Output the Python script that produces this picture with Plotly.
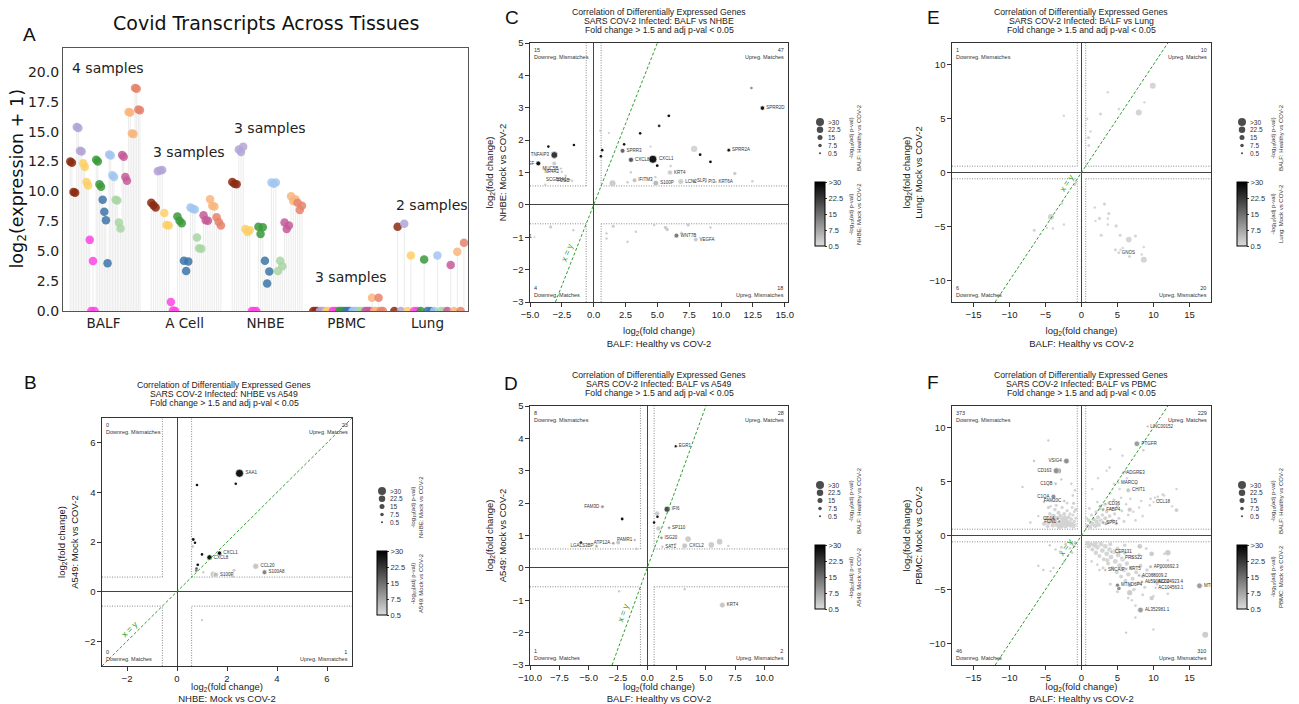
import math
import plotly.graph_objects as go

W, H = 1299, 704

# ---------------- Panel A data ----------------
tissues = ["BALF", "A Cell", "NHBE", "PBMC", "Lung"]
samples_per_tissue = [4, 3, 3, 3, 2]
sample_notes = ["4 samples", "3 samples", "3 samples", "3 samples", "2 samples"]
sample_note_y = [20.3, 13.3, 15.3, 2.85, 8.85]
transcript_colors = ["#8b2a10", "#b3a4d6", "#fdd066", "#ff44e4", "#3a9a3a", "#3b75a8",
                     "#a2c5f0", "#a8d6a3", "#c65a98", "#f9b57c", "#e6826b"]
balf_expr = [[12.5, 12.4, 9.95, 9.9], [15.4, 15.3, 13.4, 13.35], [12.35, 12.05, 10.8, 10.5],
             [5.95, 0.0, 4.18, 0.0], [12.65, 12.5, 10.6, 10.4], [9.3, 8.3, 7.6, 4.0],
             [13.1, 13.0, 11.35, 11.2], [9.3, 9.25, 7.4, 6.9], [13.05, 12.9, 11.2, 10.9],
             [16.65, 16.6, 14.85, 14.8], [18.65, 18.6, 16.85, 16.8]]
acell_expr = [[9.05, 8.85, 8.65], [11.7, 11.75, 11.8], [8.2, 7.2, 7.15], [0.75, 0.05, 0.0],
              [7.9, 7.55, 7.35], [4.2, 3.35, 4.15], [8.65, 8.55, 8.5], [6.15, 5.25, 5.2],
              [8.0, 7.6, 7.55], [9.35, 8.8, 8.75], [7.85, 7.45, 7.15]]
nhbe_expr = [[10.8, 10.65, 10.6], [13.5, 13.3, 13.75], [6.85, 6.6, 6.75], [0.0, 0.0, 0.0],
             [7.05, 6.45, 7.0], [4.2, 2.3, 3.3], [10.75, 10.65, 10.75], [3.35, 4.2, 3.75],
             [7.4, 6.85, 7.15], [9.6, 9.2, 9.35], [9.05, 8.45, 8.8]]
pbmc_expr = [[0, 0, 0], [0, 0, 0], [0, 0, 0], [0, 0, 0], [0, 0, 0], [0, 0, 0],
             [0, 0, 0], [0, 0, 0], [0, 0, 0], [1.1, 0, 0], [1.1, 0, 0]]
lung_expr = [[0, 7.05], [0, 7.3], [0, 4.65], [0, 0], [0, 4.3], [0, 0],
             [0, 4.65], [0, 0], [0, 3.85], [0, 4.95], [0, 5.7]]

# ---------------- Scatter panels data: (x, y, size-signif, colour-signif, gene) ----------------
b_points = [
    (2.5, 4.77, 30, 30, "SAA1"), (2.35, 4.35, 3, 30, ""), (0.8, 4.3, 3, 30, ""),
    (0.65, 2.1, 4, 30, ""), (0.72, 1.97, 3, 30, ""), (0.63, 1.82, 2, 5, ""),
    (1.0, 1.5, 3, 30, ""), (1.7, 1.55, 12, 30, "CXCL1"), (1.3, 1.38, 16, 30, "CXCL8"),
    (0.83, 1.08, 4, 30, ""), (0.78, 0.93, 3, 20, ""), (0.77, 0.85, 3, 15, ""),
    (1.05, 0.78, 2, 3, ""), (1.45, 0.7, 18, 3, ""), (1.55, 0.68, 16, 5, "S100P"),
    (2.28, 0.86, 5, 3, ""), (2.22, 0.62, 7, 3, ""), (3.15, 1.02, 20, 4, "CCL20"),
    (3.5, 0.78, 14, 14, "S100A8"), (1.0, -1.15, 2, 3, ""),
]
c_points = [
    (12.39, 3.61, 3, 12, ""), (13.25, 2.99, 12, 30, "SPRR2D"), (5.9, 2.75, 4, 30, ""),
    (5.14, 2.44, 4, 25, ""), (3.65, 2.21, 3, 30, ""), (2.39, 1.87, 3, 30, ""),
    (7.89, 1.73, 22, 2, ""), (4.47, 1.8, 1, 3, ""), (10.61, 1.69, 8, 30, "SPRR2A"),
    (8.36, 1.55, 4, 30, ""), (9.17, 1.33, 4, 30, ""), (2.27, 1.67, 14, 18, "SPRR3"),
    (2.93, 1.39, 15, 20, "CXCL8"), (4.65, 1.41, 30, 30, "CXCL1"), (4.99, 1.21, 4, 30, ""),
    (5.99, 1.0, 15, 3, "KRT4"), (11.08, 0.97, 7, 3, ""), (12.46, 0.73, 2, 3, ""),
    (3.21, 0.76, 12, 5, "IFITM3"), (2.66, 0.70, 2, 3, ""), (1.48, 0.67, 20, 3, ""),
    (4.88, 0.67, 18, 6, "S100P"), (6.84, 0.72, 18, 3, "LCN2"), (7.9, 0.73, 4, 10, "SLPI"),
    (8.8, 0.71, 2, 8, "PI3"), (9.6, 0.71, 2, 8, "KRT6A"), (6.04, 1.2, 2, 3, ""),
    (4.85, 0.86, 2, 3, ""), (0.67, 1.69, 3, 30, ""), (0.57, 1.5, 3, 30, ""),
    (0.52, 2.29, 1, 5, ""), (1.2, 2.22, 1, 3, ""), (2.92, 1.01, 2, 3, ""),
    (-3.56, 1.8, 3, 30, ""), (-1.55, 1.85, 3, 30, ""), (-3.09, 1.54, 24, 25, "TNFAIP3"),
    (-4.35, 1.28, 14, 30, "HBEGF"), (-3.09, 1.28, 9, 3, ""), (-2.57, 1.12, 4, 4, "MUC5B"),
    (-2.5, 1.02, 4, 4, "NR4A2"), (-2.2, 0.9, 2, 3, ""), (-1.9, 0.78, 3, 6, "SCGB3A1"),
    (-1.7, 0.74, 3, 6, "FOSB"), (-3.8, 0.62, 2, 3, ""),
    (-3.38, -0.68, 6, 3, ""), (-1.6, -0.78, 2, 3, ""), (-4.66, -0.99, 2, 3, "ID1"),
    (1.54, -0.66, 6, 3, ""), (1.01, -0.88, 2, 3, ""), (1.01, -1.04, 2, 3, ""),
    (3.31, -0.83, 2, 3, ""), (2.66, -1.14, 2, 3, ""), (4.75, -0.62, 2, 3, ""),
    (5.64, -0.70, 8, 3, ""), (5.77, -0.76, 8, 3, ""), (6.5, -0.95, 14, 15, "WNT7B"),
    (7.42, -0.62, 6, 3, ""), (6.9, -0.86, 2, 3, ""), (8.02, -1.07, 12, 4, "VEGFA"),
    (9.17, -0.70, 2, 3, ""),
]
d_points = [
    (2.43, 3.76, 5, 30, "EGR1"), (1.69, 1.81, 20, 22, "IFI6"), (0.84, 1.68, 12, 3, ""),
    (0.87, 1.58, 3, 30, ""), (0.58, 1.40, 3, 30, ""), (0.95, 1.22, 12, 3, ""),
    (1.86, 1.24, 6, 10, "SP110"), (1.21, 0.93, 6, 12, "ISG20"), (3.48, 0.89, 18, 3, ""),
    (3.19, 0.68, 18, 4, "CXCL2"), (3.13, 0.62, 8, 3, ""), (2.4, 0.74, 2, 3, ""),
    (1.29, 0.65, 4, 5, "SAT1"), (5.46, 0.71, 18, 3, ""), (6.17, 0.81, 18, 3, ""),
    (6.91, 0.68, 2, 3, ""), (6.4, -1.15, 18, 4, "KRT4"), (3.19, -0.66, 2, 3, ""),
    (-3.82, 1.89, 8, 10, "FAM3D"), (-2.14, 1.51, 4, 30, ""), (-5.66, 0.78, 4, 25, ""),
    (-4.33, 0.67, 6, 8, "LGALS3BP"), (-2.48, 0.78, 10, 4, ""), (-2.9, 0.76, 6, 10, "ATP12A"),
    (-1.06, 0.86, 3, 10, "PAMR1"), (-0.92, 0.59, 2, 3, ""), (-2.4, -0.72, 2, 3, ""),
]
e_points = [
    (9.9, 8.05, 20, 2, ""), (7.96, 5.57, 20, 2, ""), (8.75, 6.5, 2, 2, ""), (3.66, 7.43, 2, 2, ""),
    (5.19, 5.88, 2, 2, ""), (2.64, 5.41, 5, 2, ""), (0.79, 4.98, 2, 2, ""), (0.97, 3.24, 6, 2, ""),
    (1.25, 3.8, 2, 2, ""), (1.02, 2.5, 5, 2, ""), (-2.45, 5.26, 2, 2, ""),
    (-4.26, -4.12, 20, 2, ""), (-6.57, -5.35, 6, 2, ""), (-4.81, -5.13, 2, 2, ""),
    (-3.98, -5.19, 2, 2, ""), (-2.45, -4.82, 2, 2, ""), (-2.69, -2.87, 2, 2, ""),
    (-0.74, -0.95, 2, 2, ""), (-0.9, -1.15, 2, 2, ""),
    (3.19, -2.93, 6, 2, ""), (1.85, -3.24, 2, 2, ""), (3.8, -3.8, 6, 2, ""), (2.5, -4.26, 6, 2, ""),
    (1.94, -4.48, 2, 2, ""), (3.66, -4.26, 2, 2, ""), (3.66, -4.82, 2, 2, ""), (4.81, -4.95, 6, 2, ""),
    (2.73, -5.81, 5, 2, ""), (5.37, -5.81, 5, 2, ""), (6.57, -6.22, 18, 2, ""), (7.5, -5.88, 5, 2, ""),
    (4.72, -7.15, 5, 2, ""), (5.42, -7.15, 2, 2, ""), (5.19, -7.43, 6, 3, "GNOS"), (5.74, -7.0, 2, 2, ""),
    (6.67, -7.78, 5, 2, ""), (8.66, -8.09, 20, 2, ""), (8.38, -7.6, 2, 2, ""), (8.66, -6.9, 2, 2, ""),
]
f_upper_left = [
    (-4.6, 8.8, 2, 3, ""), (-6.6, 6.9, 2, 4, ""), (-8.2, 4.5, 2, 3, ""),
    (-2.1, 6.9, 18, 12, "VSIG4"), (-3.5, 6.0, 20, 12, "CD163"), (-3.2, 6.0, 16, 10, ""),
    (-3.6, 4.8, 6, 5, "C1QB"), (-3.9, 3.6, 14, 12, "C1QA"), (-2.4, 3.2, 5, 5, "FAM20C"),
    (-2.8, 5.2, 2, 3, ""), (-1.4, 4.8, 2, 3, ""), (-1.2, 3.7, 2, 3, ""), (-0.9, 4.2, 2, 3, ""),
    (-5.2, 3.1, 2, 3, ""), (-4.6, 2.6, 5, 3, ""), (-1.1, 3.0, 5, 3, ""), (-0.8, 2.4, 5, 3, ""),
    (-6.0, 1.8, 2, 3, ""), (-7.1, 1.2, 2, 3, ""),
    (-5.2, 1.1, 12, 2, ""), (-4.9, 1.6, 10, 2, ""), (-4.6, 1.2, 14, 2, ""), (-4.4, 2.0, 8, 2, ""),
    (-4.2, 1.4, 16, 2, ""), (-4.0, 0.95, 12, 2, ""), (-3.9, 1.8, 14, 2, ""), (-3.7, 2.4, 8, 2, ""),
    (-3.6, 1.3, 18, 2, ""), (-3.4, 1.0, 14, 2, ""), (-3.3, 1.6, 16, 3, ""), (-3.2, 2.1, 10, 2, ""),
    (-3.0, 1.2, 18, 2, ""), (-2.9, 1.8, 12, 2, ""), (-2.8, 0.9, 16, 2, ""), (-2.7, 2.6, 6, 2, ""),
    (-2.6, 1.4, 18, 2, ""), (-2.5, 1.1, 14, 2, ""), (-2.4, 2.0, 10, 2, ""), (-2.3, 1.6, 16, 2, ""),
    (-2.2, 0.85, 12, 2, ""), (-2.1, 1.3, 14, 2, ""), (-2.0, 2.3, 6, 2, ""), (-1.9, 1.0, 12, 2, ""),
    (-1.8, 1.7, 10, 2, ""), (-1.7, 1.2, 14, 2, ""), (-1.6, 2.0, 6, 2, ""), (-1.5, 0.9, 10, 2, ""),
    (-1.4, 1.5, 8, 2, ""), (-1.3, 1.1, 10, 2, ""), (-1.2, 1.9, 5, 2, ""), (-1.1, 0.8, 8, 2, ""),
    (-1.0, 1.3, 6, 2, ""), (-0.9, 1.0, 5, 2, ""), (-0.8, 1.6, 4, 2, ""), (-3.5, 2.8, 6, 2, ""),
    (-2.0, 3.0, 4, 2, ""), (-4.3, 2.7, 4, 2, ""), (-1.3, 2.6, 4, 2, ""), (-3.1, 0.8, 14, 2, ""),
    (-4.7, 0.85, 8, 2, ""), (-1.0, 2.2, 4, 2, ""), (-3.8, 1.5, 12, 3, ""), (-2.3, 1.25, 12, 2, ""),
    (-3.3, 1.55, 8, 10, "CD14"), (-3.1, 1.3, 8, 10, "FCN1"),
]
f_upper_right = [
    (9.2, 10.1, 3, 6, "LINC00152"), (7.7, 8.5, 18, 10, "PTGFR"), (8.6, 7.9, 2, 3, ""),
    (4.0, 8.0, 2, 3, ""), (5.7, 7.4, 2, 3, ""), (3.9, 6.3, 2, 3, ""),
    (5.8, 5.8, 6, 6, "ADGRE3"), (6.1, 5.9, 5, 5, ""), (5.1, 4.9, 5, 4, "MARCO"),
    (6.5, 4.2, 12, 5, "CHIT1"), (10.0, 3.1, 3, 3, "CCL18"), (13.2, 4.3, 2, 3, ""),
    (13.2, 2.35, 8, 3, ""), (10.6, 3.6, 2, 3, ""), (11.3, 3.8, 3, 3, ""), (9.6, 3.4, 2, 3, ""),
    (6.7, 2.4, 12, 3, ""), (3.3, 2.9, 8, 6, "CD36"), (3.0, 2.4, 8, 8, "FABP4"), (2.6, 2.7, 6, 6, ""),
    (3.0, 1.2, 8, 8, "SPP1"), (3.4, 1.1, 6, 8, ""),
    (0.8, 0.9, 10, 2, ""), (1.0, 1.4, 8, 2, ""), (1.2, 0.8, 12, 2, ""), (1.4, 1.9, 6, 2, ""),
    (1.5, 1.1, 12, 2, ""), (1.7, 1.5, 10, 2, ""), (1.9, 0.9, 12, 2, ""), (2.0, 2.2, 6, 2, ""),
    (2.1, 1.3, 12, 2, ""), (2.3, 1.7, 10, 2, ""), (2.4, 1.0, 12, 2, ""), (2.6, 2.5, 6, 2, ""),
    (2.7, 1.4, 10, 2, ""), (2.9, 1.9, 8, 2, ""), (3.2, 2.8, 4, 2, ""), (3.3, 1.6, 10, 2, ""),
    (3.5, 2.2, 8, 2, ""), (3.6, 1.2, 10, 2, ""), (3.8, 3.0, 4, 2, ""), (3.9, 1.8, 8, 2, ""),
    (4.1, 2.5, 6, 2, ""), (4.3, 1.4, 8, 2, ""), (4.5, 3.3, 4, 2, ""), (4.6, 2.0, 6, 2, ""),
    (4.8, 1.1, 8, 2, ""), (5.0, 2.7, 4, 2, ""), (5.2, 1.6, 6, 2, ""), (5.5, 3.5, 3, 2, ""),
    (5.6, 2.3, 5, 2, ""), (5.9, 1.3, 6, 2, ""), (6.2, 2.9, 3, 2, ""), (6.5, 1.9, 4, 2, ""),
    (6.8, 3.4, 3, 2, ""), (7.2, 2.2, 3, 2, ""), (7.5, 1.4, 4, 2, ""), (8.0, 2.6, 3, 2, ""),
    (8.5, 1.8, 3, 2, ""), (1.1, 2.5, 4, 2, ""), (0.7, 1.6, 6, 2, ""), (2.2, 3.1, 3, 2, ""),
    (4.0, 3.9, 3, 2, ""), (5.3, 4.3, 3, 2, ""), (6.3, 5.3, 2, 2, ""), (4.5, 4.8, 3, 2, ""),
    (6.7, 4.2, 3, 2, ""), (7.6, 4.8, 2, 2, ""), (8.3, 3.2, 3, 2, ""), (9.5, 2.8, 2, 2, ""),
    (10.2, 3.5, 2, 2, ""), (10.8, 3.3, 2, 2, ""), (11.5, 3.7, 2, 2, ""), (12.6, 2.7, 2, 2, ""),
    (3.5, 6.0, 2, 2, ""), (2.3, 5.3, 2, 2, ""), (1.5, 4.3, 2, 2, ""),
]
f_lower_right = [
    (16.4, -4.66, 18, 10, "MTRNR2L12"), (17.2, -9.2, 20, 3, ""), (8.2, -6.9, 18, 10, "AL352981.1"),
    (10.0, -8.7, 2, 3, ""), (6.2, -9.0, 2, 3, ""), (12.0, -5.4, 2, 3, ""), (7.5, -7.6, 2, 3, ""),
    (12.0, -1.6, 18, 3, ""), (9.75, -1.7, 14, 3, ""), (8.1, -1.0, 14, 3, ""), (6.7, -5.3, 16, 3, ""),
    (9.75, -5.8, 12, 3, ""),
    (4.2, -1.5, 8, 6, "CEP131"), (5.6, -2.1, 8, 6, "PRSS22"), (6.2, -3.1, 8, 6, "KRT5"),
    (3.3, -3.2, 5, 6, "SNCAIP"), (9.6, -2.9, 8, 6, "AP000692.3"), (8.0, -3.7, 6, 6, "AC068009.2"),
    (8.4, -4.3, 6, 8, "AL590822.2"), (10.2, -4.3, 6, 6, "AC004923.4"), (10.3, -4.85, 3, 5, "AC104563.1"),
    (5.0, -4.6, 10, 14, "MTND6P4"), (5.2, -4.9, 8, 12, ""),
    (0.8, -0.7, 10, 2, ""), (1.0, -1.0, 12, 2, ""), (1.3, -0.8, 12, 2, ""), (1.5, -1.3, 10, 2, ""),
    (1.8, -0.9, 14, 2, ""), (2.0, -1.6, 12, 2, ""), (2.2, -1.1, 14, 2, ""), (2.5, -1.9, 10, 2, ""),
    (2.7, -0.8, 14, 2, ""), (2.9, -1.4, 14, 2, ""), (3.1, -2.2, 10, 2, ""), (3.3, -1.0, 14, 2, ""),
    (3.5, -1.7, 14, 2, ""), (3.7, -2.6, 10, 2, ""), (3.9, -1.3, 14, 2, ""), (4.1, -2.0, 14, 2, ""),
    (4.3, -3.0, 10, 2, ""), (4.5, -1.5, 14, 2, ""), (4.7, -2.4, 14, 2, ""), (4.9, -3.4, 10, 2, ""),
    (5.1, -1.8, 14, 2, ""), (5.3, -2.8, 14, 2, ""), (5.5, -3.8, 10, 2, ""), (5.7, -2.2, 14, 2, ""),
    (5.9, -3.2, 12, 2, ""), (6.1, -4.2, 10, 2, ""), (6.3, -2.6, 12, 2, ""), (6.5, -3.6, 12, 2, ""),
    (6.7, -4.6, 10, 2, ""), (6.9, -3.0, 12, 2, ""), (7.1, -4.0, 10, 2, ""), (7.3, -5.0, 8, 2, ""),
    (7.6, -3.4, 10, 2, ""), (7.9, -4.4, 8, 2, ""), (8.2, -2.8, 10, 2, ""), (8.5, -3.8, 8, 2, ""),
    (8.8, -4.8, 6, 2, ""), (9.1, -3.2, 8, 2, ""), (9.5, -4.2, 6, 2, ""), (10.0, -3.6, 6, 2, ""),
    (10.5, -4.5, 5, 2, ""), (11.0, -3.0, 5, 2, ""), (5.0, -1.2, 10, 2, ""), (6.0, -1.6, 10, 2, ""),
    (7.0, -2.0, 8, 2, ""), (8.0, -1.8, 8, 2, ""), (11.5, -1.7, 3, 2, ""), (12.0, -2.3, 3, 2, ""),
    (3.0, -3.0, 6, 2, ""), (2.5, -3.2, 4, 2, ""), (4.0, -4.5, 6, 2, ""), (5.0, -5.2, 6, 2, ""),
    (6.5, -5.8, 4, 2, ""), (7.5, -6.5, 4, 2, ""), (10.0, -5.6, 3, 2, ""), (8.5, -5.5, 5, 2, ""),
    (2.0, -0.7, 10, 2, ""), (4.0, -0.8, 10, 2, ""), (6.0, -0.9, 8, 2, ""), (9.0, -1.2, 5, 2, ""),
    (3.6, -2.3, 10, 2, ""), (1.4, -2.4, 3, 2, ""), (2.2, -2.7, 3, 2, ""), (7.0, -6.0, 3, 2, ""),
]
f_lower_left = [
    (-1.0, -1.0, 3, 3, ""), (-1.6, -1.2, 3, 3, ""), (-2.2, -0.8, 3, 3, ""), (-2.8, -1.1, 3, 3, ""),
    (-3.6, -1.3, 2, 3, ""), (-4.4, -0.9, 2, 3, ""), (-1.3, -1.6, 3, 3, ""), (-0.9, -0.7, 5, 3, ""),
    (-3.9, -3.0, 2, 3, ""), (-4.3, -3.3, 2, 3, ""), (-5.3, -3.2, 2, 3, ""), (-2.4, -2.4, 2, 3, ""),
    (-6.0, -2.8, 2, 3, ""), (-1.9, -1.9, 2, 3, ""), (-3.0, -1.5, 2, 3, ""), (-1.5, -0.75, 3, 3, ""),
]
f_points = f_upper_left + f_upper_right + f_lower_right + f_lower_left

# quadrant counts: (upper-left, upper-right, lower-left, lower-right)
b_counts = (0, 23, 0, 1)
c_counts = (15, 47, 4, 18)
d_counts = (8, 28, 1, 2)
e_counts = (1, 10, 6, 20)
f_counts = (373, 229, 46, 310)

legend_values = [30, 22.5, 15, 7.5, 0.5]
legend_text = [">30", "22.5", "15", "7.5", "0.5"]
cbar_vals = [0.5, 7.5, 15, 22.5, 30]
cbar_text = ["0.5", "7.5", "15", "22.5", ">30"]
fc_threshold = math.log2(1.5)

# ---------------- helpers ----------------
def xd(p0, p1):
    return [p0 / W, p1 / W]

def yd(p0, p1):
    return [1 - p1 / H, 1 - p0 / H]

def diam(s):
    return 2 + 6 * min(s, 30) / 30

fig = go.Figure()
shapes = []
annotations = []
layout_axes = {}

# ---------------- Panel A ----------------
A_FONT = "DejaVu Sans"
expr_by_tissue = [balf_expr, acell_expr, nhbe_expr, pbmc_expr, lung_expr]
group_width = 0.86
stem_x, stem_y = [], []
marker_x = [[] for _ in transcript_colors]
marker_y = [[] for _ in transcript_colors]
for k, vals in enumerate(expr_by_tissue):
    n = samples_per_tissue[k]
    N = len(transcript_colors) * n
    step = group_width / (N - 1)
    start = k + 0.02 - group_width / 2
    for t, tv in enumerate(vals):
        for j, v in enumerate(tv):
            xx = start + (t * n + j) * step
            stem_x += [xx, xx, None]
            stem_y += [0, v, None]
            marker_x[t].append(xx)
            marker_y[t].append(v)

fig.add_trace(go.Scatter(x=stem_x, y=stem_y, mode="lines", xaxis="x", yaxis="y",
                         line=dict(color="#e9e9e9", width=0.9), hoverinfo="skip", showlegend=False))
for t, col in enumerate(transcript_colors):
    fig.add_trace(go.Scatter(x=marker_x[t], y=marker_y[t], mode="markers", xaxis="x", yaxis="y",
                             marker=dict(color=col, size=8.5, opacity=0.85, line=dict(width=0)),
                             showlegend=False))
for k, note in enumerate(sample_notes):
    annotations.append(dict(x=k + 0.06, y=sample_note_y[k], xref="x", yref="y", text=note,
                            showarrow=False, xanchor="center", yanchor="middle",
                            font=dict(family=A_FONT, size=14, color="#222")))
annotations.append(dict(x=266 / W, y=1 - 23 / H, xref="paper", yref="paper",
                        xanchor="center", yanchor="middle",
                        text="Covid Transcripts Across Tissues", showarrow=False,
                        font=dict(family=A_FONT, size=19, color="#111")))
annotations.append(dict(x=29 / W, y=1 - 35 / H, xref="paper", yref="paper", text="A",
                        xanchor="center", yanchor="middle", showarrow=False,
                        font=dict(family="Liberation Sans", size=19, color="#111")))
annotations.append(dict(x=18 / W, y=1 - 179.5 / H, xref="paper", yref="paper",
                        xanchor="center", yanchor="middle", textangle=-90, showarrow=False,
                        text="log<sub>2</sub>(expression + 1)",
                        font=dict(family=A_FONT, size=17.5, color="#111")))
layout_axes["xaxis"] = dict(domain=xd(63, 468), range=[-0.5, 4.5], anchor="y", automargin=False,
                            tickmode="array", tickvals=list(range(len(tissues))), ticktext=tissues,
                            ticks="", showgrid=False, zeroline=False, showline=True, mirror=True,
                            linecolor="#555", linewidth=1.2,
                            tickfont=dict(family=A_FONT, size=13.5, color="#222"))
layout_axes["yaxis"] = dict(domain=yd(48, 311), range=[0, 22], anchor="x", automargin=False,
                            tickmode="array", tickvals=[i * 2.5 for i in range(9)],
                            ticktext=["%.1f" % (i * 2.5) for i in range(9)],
                            ticks="", showgrid=False, zeroline=False, showline=True, mirror=True,
                            linecolor="#555", linewidth=1.2,
                            tickfont=dict(family=A_FONT, size=14, color="#222"))

# ---------------- Scatter panels ----------------
panels = [
    dict(idx=2, letter="B", pts=b_points, counts=b_counts, box=(102, 352, 418, 666),
         xr=[-3, 7], yr=[-3, 7], xt=[-2, 0, 2, 4, 6], xfmt="%d", yt=[-2, 0, 2, 4, 6],
         pair="NHBE vs A549", xname="NHBE: Mock vs COV-2", yname="A549: Mock vs COV-2",
         title_c=224, title_top=385, letter_xy=(30, 382), cbar=(377, 551), xy_at=-1.7),
    dict(idx=3, letter="C", pts=c_points, counts=c_counts, box=(530, 788, 43, 302),
         xr=[-5, 15.26], yr=[-3, 5], xt=[-5, -2.5, 0, 2.5, 5, 7.5, 10, 12.5, 15], xfmt="%.1f",
         yt=list(range(-3, 6)), pair="BALF vs NHBE", xname="BALF: Healthy vs COV-2",
         yname="NHBE: Mock vs COV-2", title_c=659, title_top=12, letter_xy=(512, 18),
         cbar=(815, 182), xy_at=-1.55),
    dict(idx=4, letter="D", pts=d_points, counts=d_counts, box=(530, 788, 406, 665),
         xr=[-10, 12], yr=[-3, 5], xt=[-10, -7.5, -5, -2.5, 0, 2.5, 5, 7.5, 10], xfmt="%.1f",
         yt=list(range(-3, 6)), pair="BALF vs A549", xname="BALF: Healthy vs COV-2",
         yname="A549: Mock vs COV-2", title_c=659, title_top=375, letter_xy=(511, 383),
         cbar=(815, 545), xy_at=-1.45),
    dict(idx=5, letter="E", pts=e_points, counts=e_counts, box=(952, 1211, 43, 302),
         xr=[-18, 18], yr=[-12, 12], xt=[-15, -10, -5, 0, 5, 10, 15], xfmt="%d",
         yt=[-10, -5, 0, 5, 10], pair="BALF vs Lung", xname="BALF: Healthy vs COV-2",
         yname="Lung: Mock vs COV-2", title_c=1081, title_top=12, letter_xy=(933, 18),
         cbar=(1237, 182), xy_at=-1.3),
    dict(idx=6, letter="F", pts=f_points, counts=f_counts, box=(952, 1211, 406, 665),
         xr=[-18, 18], yr=[-12, 12], xt=[-15, -10, -5, 0, 5, 10, 15], xfmt="%d",
         yt=[-10, -5, 0, 5, 10], pair="BALF vs PBMC", xname="BALF: Healthy vs COV-2",
         yname="PBMC: Mock vs COV-2", title_c=1081, title_top=375, letter_xy=(933, 382),
         cbar=(1237, 545), xy_at=-1.4),
]

SF = "Liberation Sans"
grey_scale = [[0, "#dcdcdc"], [1, "#000000"]]
tick_font = dict(family=SF, size=9.5, color="#222")
leg_x, leg_y, leg_s = [], [], []

for p in panels:
    i = p["idx"]
    xa, ya = "x%d" % i, "y%d" % i
    x0p, x1p, y0p, y1p = p["box"]
    xr, yr = p["xr"], p["yr"]
    pts = p["pts"]
    fig.add_trace(go.Scatter(
        x=[q[0] for q in pts], y=[q[1] for q in pts], xaxis=xa, yaxis=ya, mode="markers",
        marker=dict(size=[diam(q[2]) for q in pts], color=[q[3] for q in pts],
                    coloraxis="coloraxis%d" % i, opacity=0.92, line=dict(width=0)),
        showlegend=False))
    lab = [q for q in pts if q[4]]
    fig.add_trace(go.Scatter(
        x=[q[0] for q in lab], y=[q[1] for q in lab], xaxis=xa, yaxis=ya, mode="markers+text",
        marker=dict(size=[diam(q[2]) for q in lab], color="rgba(0,0,0,0)"),
        text=[q[4] for q in lab],
        textposition=["middle left" if q[0] < 0 else "middle right" for q in lab],
        textfont=dict(family=SF, size=4.5, color="#333"), hoverinfo="skip", showlegend=False))
    # x = y line
    lo, hi = max(xr[0], yr[0]), min(xr[1], yr[1])
    fig.add_trace(go.Scatter(x=[lo, hi], y=[lo, hi], xaxis=xa, yaxis=ya, mode="lines",
                             line=dict(color="#2ca02c", width=1, dash="3px,2px"),
                             hoverinfo="skip", showlegend=False))
    ppx = (x1p - x0p) / (xr[1] - xr[0])
    ppy = (y1p - y0p) / (yr[1] - yr[0])
    theta = math.atan2(ppy, ppx)
    a = p["xy_at"]
    annotations.append(dict(x=a, y=a, xref=xa, yref=ya, text="x = y", showarrow=False,
                            textangle=-math.degrees(theta),
                            xshift=-7 * math.sin(theta), yshift=7 * math.cos(theta),
                            font=dict(family=SF, size=8.5, color="#2ca02c")))
    # threshold boxes (dotted)
    t = fc_threshold
    segs = [(-t, t, -t, yr[1]), (-t, yr[0], -t, -t), (t, t, t, yr[1]), (t, yr[0], t, -t),
            (xr[0], t, -t, t), (t, t, xr[1], t), (xr[0], -t, -t, -t), (t, -t, xr[1], -t)]
    for sx0, sy0, sx1, sy1 in segs:
        shapes.append(dict(type="line", xref=xa, yref=ya, x0=sx0, y0=sy0, x1=sx1, y1=sy1,
                           line=dict(color="#8a8a8a", width=1, dash="1px,1.5px"), layer="below"))
    # axes
    layout_axes["xaxis%d" % i] = dict(
        domain=xd(x0p, x1p), range=xr, anchor=ya, automargin=False, tickmode="array",
        tickvals=p["xt"], ticktext=[(p["xfmt"] % v).replace("-", "\u2212") for v in p["xt"]],
        ticks="outside", ticklen=3.5, tickcolor="#333", showgrid=False,
        zeroline=True, zerolinecolor="#444", zerolinewidth=1.2,
        showline=True, mirror=True, linecolor="#333", linewidth=1.3, tickfont=tick_font,
        title=dict(text="log<sub>2</sub>(fold change)<br>" + p["xname"],
                   font=dict(family=SF, size=9.5, color="#222"), standoff=8))
    layout_axes["yaxis%d" % i] = dict(
        domain=yd(y0p, y1p), range=yr, anchor=xa, automargin=False, tickmode="array",
        tickvals=p["yt"], ticktext=[("%d" % v).replace("-", "\u2212") for v in p["yt"]],
        ticks="outside", ticklen=3.5, tickcolor="#333", showgrid=False,
        zeroline=True, zerolinecolor="#444", zerolinewidth=1.2,
        showline=True, mirror=True, linecolor="#333", linewidth=1.3, tickfont=tick_font,
        title=dict(text="log<sub>2</sub>(fold change)<br>" + p["yname"],
                   font=dict(family=SF, size=9.5, color="#222"), standoff=4))
    # corner counts
    ul, ur, ll, lr = p["counts"]
    cf = dict(family=SF, size=5.5, color="#333")
    annotations += [
        dict(x=0, y=1, xref=xa + " domain", yref=ya + " domain", xanchor="left", yanchor="top",
             xshift=2, yshift=-2, align="left", showarrow=False, font=cf,
             text="%d<br>Downreg. Mismatches" % ul),
        dict(x=1, y=1, xref=xa + " domain", yref=ya + " domain", xanchor="right", yanchor="top",
             xshift=-2, yshift=-2, align="right", showarrow=False, font=cf,
             text="%d<br>Upreg. Matches" % ur),
        dict(x=0, y=0, xref=xa + " domain", yref=ya + " domain", xanchor="left", yanchor="bottom",
             xshift=2, yshift=2, align="left", showarrow=False, font=cf,
             text="%d<br>Downreg. Matches" % ll),
        dict(x=1, y=0, xref=xa + " domain", yref=ya + " domain", xanchor="right", yanchor="bottom",
             xshift=-2, yshift=2, align="right", showarrow=False, font=cf,
             text="%d<br>Upreg. Mismatches" % lr),
    ]
    # title (three lines) and letter
    title_lines = ["Correlation of Differentially Expressed Genes",
                   "SARS COV-2 Infected: " + p["pair"],
                   "Fold change > 1.5 and adj p-val < 0.05"]
    for li, line in enumerate(title_lines):
        annotations.append(dict(x=p["title_c"] / W, y=1 - (p["title_top"] + 9 * li) / H,
                                xref="paper", yref="paper", xanchor="center", yanchor="middle",
                                showarrow=False, text=line,
                                font=dict(family=SF, size=8.7, color="#222")))
    lx, ly = p["letter_xy"]
    annotations.append(dict(x=lx / W, y=1 - ly / H, xref="paper", yref="paper", text=p["letter"],
                            xanchor="center", yanchor="middle", showarrow=False,
                            font=dict(family=SF, size=19, color="#111")))
    # colour bar
    cbl, cbt = p["cbar"]
    layout_axes["coloraxis%d" % i] = dict(
        colorscale=grey_scale, cmin=0.5, cmax=30,
        colorbar=dict(x=cbl / W, xanchor="left", xpad=0, y=1 - (cbt + 32) / H, yanchor="middle",
                      ypad=0, len=64, lenmode="pixels", thickness=10, thicknessmode="pixels",
                      outlinewidth=1, outlinecolor="#000", tickmode="array", tickvals=cbar_vals,
                      ticktext=cbar_text, ticks="outside", ticklen=2, tickcolor="#333",
                      tickfont=dict(family=SF, size=7.5, color="#333")))
    annotations.append(dict(x=cbl + 40, y=cbt + 32, xref="x7", yref="y7", textangle=-90,
                            xanchor="center", yanchor="middle", showarrow=False,
                            text="-log<sub>10</sub>(adj p-val)<br>" + p["yname"],
                            font=dict(family=SF, size=6, color="#333")))
    # size legend
    for k, v in enumerate(legend_values):
        ypx = cbt - 60 + k * 7.8
        leg_x.append(cbl + 5)
        leg_y.append(ypx)
        leg_s.append(diam(v))
        annotations.append(dict(x=cbl + 11, y=ypx, xref="x7", yref="y7", xanchor="left",
                                yanchor="middle", showarrow=False, text=legend_text[k],
                                font=dict(family=SF, size=6.5, color="#333")))
    annotations.append(dict(x=cbl + 40, y=cbt - 44, xref="x7", yref="y7", textangle=-90,
                            xanchor="center", yanchor="middle", showarrow=False,
                            text="-log<sub>10</sub>(adj p-val)<br>" + p["xname"],
                            font=dict(family=SF, size=6, color="#333")))

fig.add_trace(go.Scatter(x=leg_x, y=leg_y, xaxis="x7", yaxis="y7", mode="markers",
                         marker=dict(size=leg_s, color="#000", line=dict(width=0)),
                         hoverinfo="skip", showlegend=False))
layout_axes["xaxis7"] = dict(domain=[0, 1], range=[0, W], anchor="y7", visible=False,
                             automargin=False, showgrid=False, zeroline=False, fixedrange=True)
layout_axes["yaxis7"] = dict(domain=[0, 1], range=[H, 0], anchor="x7", visible=False,
                             automargin=False, showgrid=False, zeroline=False, fixedrange=True)

fig.update_layout(template="none", width=W, height=H, autosize=False,
                  margin=dict(l=0, r=0, t=0, b=0, pad=0),
                  paper_bgcolor="white", plot_bgcolor="rgba(0,0,0,0)",
                  font=dict(family=SF, color="#222"), showlegend=False,
                  shapes=shapes, annotations=annotations, **layout_axes)

fig.write_html("out.html", config={"displayModeBar": False},
               post_script="document.body.style.margin='0px';")
